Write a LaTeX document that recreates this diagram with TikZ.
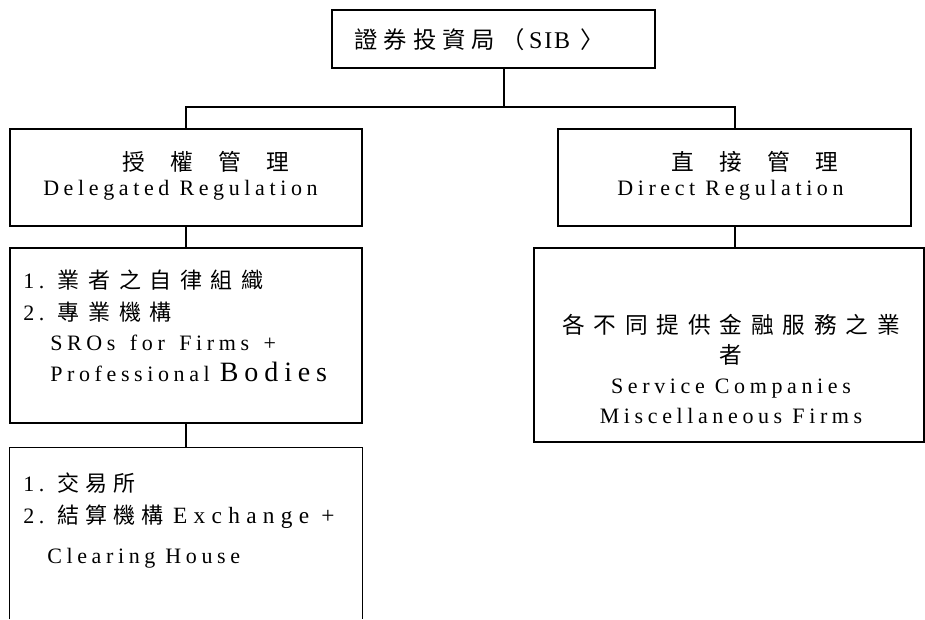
\documentclass[tikz,border=0pt]{standalone}
\usepackage{fontspec}
\setmainfont{Liberation Serif}[LetterSpace=21]
\newfontfamily\cjk{Noto Sans CJK TC}[LetterSpace=6]
\newfontfamily\cjkmid{Noto Sans CJK TC}[LetterSpace=26]
\newfontfamily\cjkwide{Noto Sans CJK TC}[LetterSpace=39]

\begin{document}
\begin{tikzpicture}[x=0.75pt,y=-0.75pt,
        box/.style={draw, line width=0.9pt, inner sep=0pt},
        bar/.style={line width=1.5pt},
        txt/.style={inner sep=0pt, anchor=west, font=\fontsize{16.5}{19}\selectfont},
        ctxt/.style={inner sep=0pt, align=center, font=\fontsize{16.5}{22.5}\selectfont}]
        \useasboundingbox (0,0) rectangle (925,619);

        % boxes
        \node[box, minimum width=242.25pt, minimum height=43.5pt] (sib) at (493.5,39) {};
        \node[box, minimum width=264pt, minimum height=72.75pt] (deleg) at (186,177.5) {};
        \node[box, minimum width=264.75pt, minimum height=72.75pt] (direct) at (734.5,177.5) {};
        \node[box, minimum width=264pt, minimum height=131.25pt] (firms) at (186,335.5) {};
        \node[inner sep=0pt, minimum width=264pt, minimum height=128.25pt] (exch) at (186,533.5) {};
        \node[box, minimum width=292.5pt, minimum height=145.5pt] (misc) at (729,345) {};
        \draw[box] (exch.south west) -- (exch.north west) -- (exch.north east) -- (exch.south east);

        % tree
        \coordinate (barL) at (186,107);
        \coordinate (barM) at (504,107);
        \coordinate (barR) at (735,107);
        \draw[bar] (barM |- sib.south) -- (barM);
        \draw[bar] (deleg.north) -- (barL) -- (barR) -- (barR |- direct.north);
        \draw[bar] (deleg.south) -- (firms.north);
        \draw[bar] (firms.south) -- (exch.north);
        \draw[bar] (barR |- direct.south) -- (barR |- misc.north);

        % texts
        \node[txt] (sibT) at (354,40) {{\cjkmid\fontsize{17.5}{19}\selectfont 證券投資局（}\hspace{0.2em}{\fontsize{18}{19}\selectfont\addfontfeature{LetterSpace=8}SIB} {\cjk\fontsize{17.5}{19}\selectfont 〉}};
        \node[txt] (delegZh) at (122,162) {{\cjk\fontsize{17}{19}\selectfont 授　權　管　理}};
        \node[txt] (delegEn) at (43,190) {Delegated Regulation};
        \node[txt] (directZh) at (671,162) {{\cjk\fontsize{17}{19}\selectfont 直　接　管　理}};
        \node[txt] (directEn) at (617,190) {Direct Regulation};

        \node[txt] (firmsA) at (23,280) {1. {\cjkwide 業者之自律組織}};
        \node[txt] (firmsB) at (23,312) {2. {\cjkwide 專業機構}};
        \node[txt] (firmsC) at (50,343) {SROs\hspace{0.2em} for\hspace{0.2em} Firms\hspace{0.2em} +};
        \node[txt] (firmsD) at (50,372) {Professional {\fontsize{21}{24}\selectfont Bodies}};

        \node[txt] (exchA) at (23,483) {1. {\cjkmid 交易所}};
        \node[txt] (exchB) at (23,517) {2. {\cjkmid 結算機構} {\fontsize{17.5}{19}\selectfont\addfontfeature{LetterSpace=27}Exchange +}};
        \node[txt] (exchC) at (47,558) {Clearing House};

        \node[ctxt] (miscT) at (731,369) {{\cjkwide\fontsize{17}{19}\selectfont 各不同提供金融服務之業}\\{\cjkwide\fontsize{17}{19}\selectfont 者}\\Service Companies\\Miscellaneous Firms};
    \end{tikzpicture}
\end{document}
